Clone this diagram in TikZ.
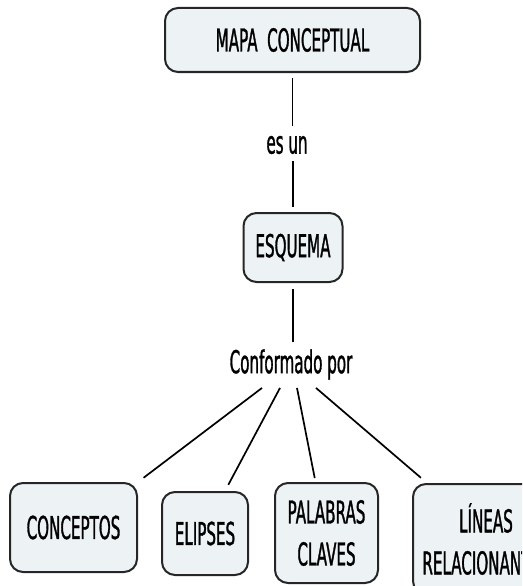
\documentclass[tikz,border=0pt]{standalone}
\usepackage{fontspec}
\setmainfont{DejaVu Sans}[FakeStretch=0.48, FakeBold=1]
\definecolor{fondo}{HTML}{EDF3F5}
\definecolor{borde}{HTML}{262626}
\begin{document}
\begin{tikzpicture}[x=1pt,y=-1pt,
	concepto/.style={draw=borde, line width=2pt, fill=fondo, rounded corners=13pt, align=center},
	enlace/.style={},
	linea/.style={line width=1.1pt},
	rama/.style={line width=1.7pt}]
	\tikzstyle{every node}+=[inner sep=0pt, font=\fontsize{31.5}{42}\selectfont]
	\useasboundingbox (0,0) rectangle (522,586);
	\clip (0,0) rectangle (522,586);
	\node [concepto, minimum width=255pt, minimum height=64pt] (mapa) at (292.5,40) {MAPA\ \ CONCEPTUAL};
	\node [enlace] (esun) at (287,145) {es un};
	\node [concepto, minimum width=99pt, minimum height=69pt] (esquema) at (293,247.5) {ESQUEMA};
	\node [enlace] (conf) at (291,364.5) {Conformado por};
	\node [concepto, minimum width=127pt, minimum height=89pt] (conceptos) at (73.5,527.5) {CONCEPTOS};
	\node [concepto, minimum width=86pt, minimum height=83pt] (elipses) at (205,533.5) {ELIPSES};
	\node [concepto, minimum width=103pt, minimum height=100pt] (palabras) at (326.5,533) {PALABRAS\\CLAVES};
	\node [concepto, minimum width=146pt, minimum height=110pt] (lineas) at (486,539) {LÍNEAS\\RELACIONANTES};
	\draw [linea, shorten <=5pt, shorten >=10pt] (mapa.south) -- (mapa.south |- esun.north);
	\draw [linea, shorten <=7pt, shorten >=5pt] (esquema.north |- esun.south) -- (esquema.north);
	\draw [linea, shorten <=6pt, shorten >=7pt] (esquema.south) -- (esquema.south |- conf.north);
	\draw [rama, shorten >=7pt] ([xshift=-29pt,yshift=-8pt]conf.south) -- (conceptos.north east);
	\draw [rama, shorten >=7pt] ([xshift=-11pt,yshift=-8pt]conf.south) -- ([xshift=20pt]elipses.north);
	\draw [rama, shorten >=4pt] ([xshift=6pt,yshift=-8pt]conf.south) -- ([xshift=-11pt]palabras.north);
	\draw [rama, shorten >=8pt] ([xshift=25pt,yshift=-8pt]conf.south) -- ([xshift=15pt]lineas.north west);
\end{tikzpicture}
\end{document}
